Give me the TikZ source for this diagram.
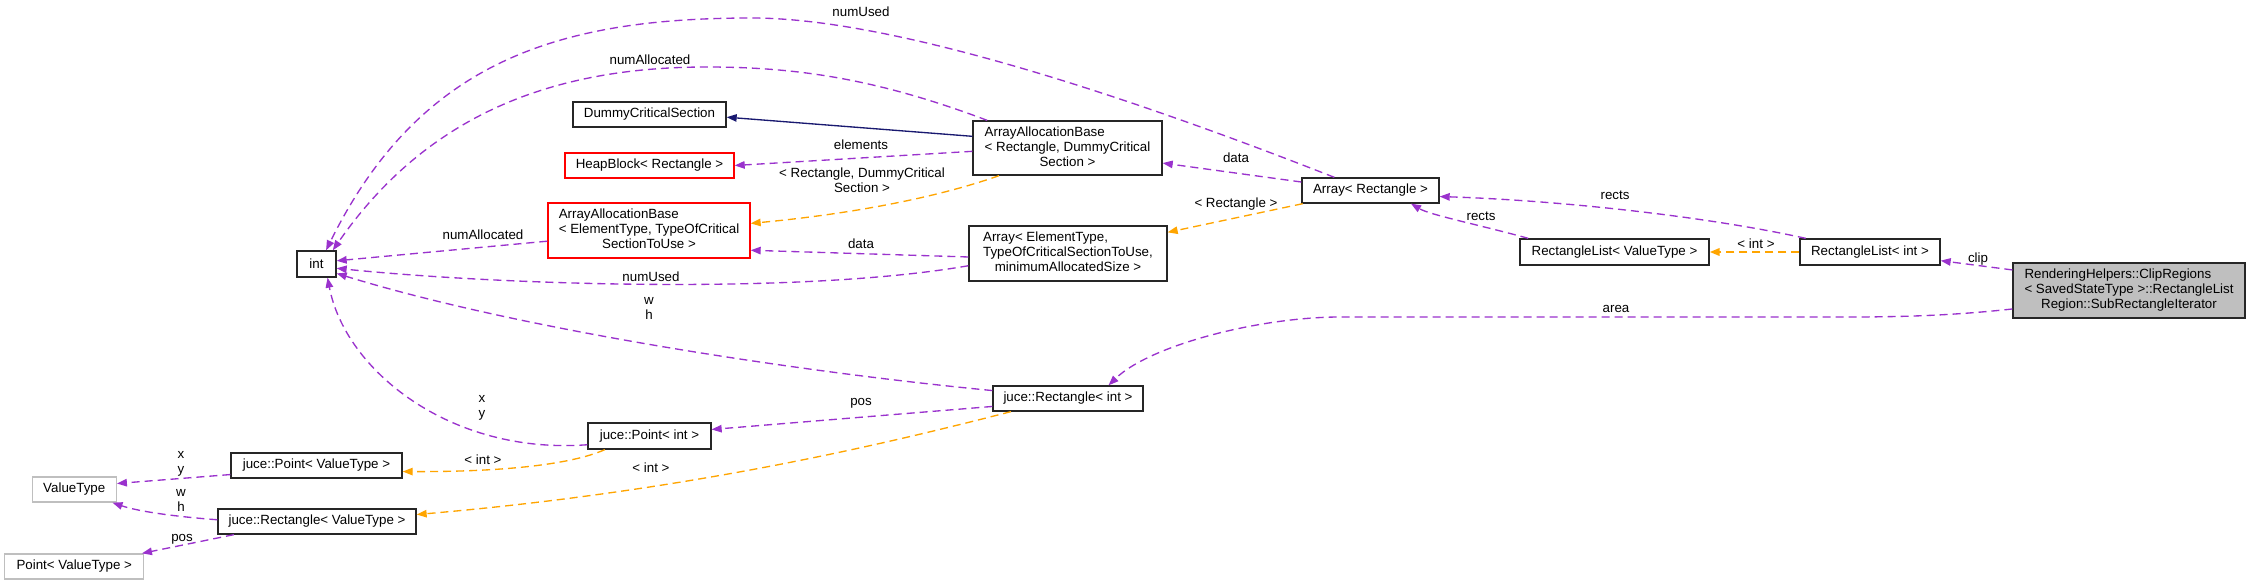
\documentclass[tikz,border=0pt]{standalone}
\usepackage{fontspec}
\setmainfont{Liberation Sans}
\usetikzlibrary{arrows.meta}
\definecolor{dxpurple}{HTML}{9A32CD}
\definecolor{dxorange}{HTML}{FFA500}
\definecolor{dxnavy}{HTML}{191970}
\definecolor{dxgray}{HTML}{BFBFBF}
\newcommand{\dxleft}[1]{\multicolumn{1}{@{}l@{}}{#1}}
\begin{document}
\begin{tikzpicture}[x=0.75pt,y=-0.75pt,
  every node/.style={font=\fontsize{10}{11.25}\selectfont},
  cls/.style={draw=black!85, line width=1pt, fill=white, inner sep=0pt, align=center},
  inc/.style={cls, draw=red},
  ext/.style={cls, draw=dxgray},
  cur/.style={cls, fill=dxgray},
  tip/.style={-{Triangle[length=7.5pt,width=5.6pt]}},
  use/.style={tip, draw=dxpurple, line width=1pt, dash pattern=on 6pt off 3.75pt},
  tmpl/.style={tip, draw=dxorange, line width=1pt, dash pattern=on 6pt off 3.75pt},
  inh/.style={tip, draw=dxnavy, line width=1pt},
  lbl/.style={inner sep=0pt, align=center}
]
\useasboundingbox (0,0) rectangle (2248,585);
\fill[white] (0,0) rectangle (2248,585);

% class nodes
\node[cls, minimum width=29.25pt, minimum height=19.5pt] (int) at (316.5,264) {int};
\node[cls, minimum width=114.75pt, minimum height=18.75pt] (dcs) at (649.5,114.5) {DummyCriticalSection};
\node[inc, minimum width=126.75pt, minimum height=18.75pt] (heap) at (649.5,165.5) {HeapBlock< Rectangle >};
\node[inc, minimum width=151.5pt, minimum height=41.25pt] (aabe) at (649,230.5)
  {\begin{tabular}{@{}c@{}}\dxleft{ArrayAllocationBase}\\< ElementType, TypeOfCritical\\SectionToUse >\end{tabular}};
\node[cls, minimum width=141.75pt, minimum height=40.5pt] (aabr) at (1067.5,148)
  {\begin{tabular}{@{}c@{}}\dxleft{ArrayAllocationBase}\\< Rectangle, DummyCritical\\Section >\end{tabular}};
\node[cls, minimum width=148.5pt, minimum height=41.25pt] (arre) at (1068,253.5)
  {\begin{tabular}{@{}c@{}}\dxleft{Array< ElementType,}\\TypeOfCriticalSectionToUse,\\minimumAllocatedSize >\end{tabular}};
\node[cls, minimum width=102.75pt, minimum height=18.75pt] (arrr) at (1370.5,190.5) {Array< Rectangle >};
\node[cls, minimum width=141.75pt, minimum height=19.5pt] (rlv) at (1614.5,252) {RectangleList< ValueType >};
\node[cls, minimum width=105pt, minimum height=19.5pt] (rli) at (1870,252) {RectangleList< int >};
\node[cur, minimum width=174pt, minimum height=41.25pt] (rend) at (2129,290.5)
  {\begin{tabular}{@{}c@{}}\dxleft{RenderingHelpers::ClipRegions}\\< SavedStateType >::RectangleList\\Region::SubRectangleIterator\end{tabular}};
\node[cls, minimum width=112.5pt, minimum height=18.75pt] (rint) at (1068,398.5) {juce::Rectangle< int >};
\node[cls, minimum width=92.25pt, minimum height=19.5pt] (pint) at (649.5,436) {juce::Point< int >};
\node[cls, minimum width=128.25pt, minimum height=18.75pt] (pvt) at (316.5,465.5) {juce::Point< ValueType >};
\node[cls, minimum width=148.5pt, minimum height=18.75pt] (rvt) at (317,521.5) {juce::Rectangle< ValueType >};
\node[ext, minimum width=63pt, minimum height=18.75pt] (vt) at (74.25,489.5) {ValueType};
\node[ext, minimum width=104.25pt, minimum height=18.75pt] (ptvt) at (74.25,566.5) {Point< ValueType >};

% connectors
\draw[inh] (aabr.173) -- (dcs.-2);
\draw[use] (aabr.182) -- (heap.east);
\draw[use] (aabr.161) .. controls (880,80) and (800,67) .. (707,67) .. controls (560,67) and (430,110) .. (int.40);
\draw[use] (arrr.160) .. controls (1150,105) and (900,18) .. (752,18) .. controls (560,18) and (420,60) .. (int.55);
\draw[use] (aabe.186) -- (int.9);
\draw[use] (arre.187) .. controls (800,295) and (500,285) .. (int.-12);
\draw[use] (rint.174) .. controls (800,372) and (520,330) .. (int.-25);
\draw[use] (pint.188) .. controls (450,455) and (345,370) .. (int.-51);
\draw[use] (arre.182) -- (aabe.-11);
\draw[use] (arrr.173) -- (aabr.-9);
\draw[tmpl] (arrr.191) -- (arre.12);
\draw[tmpl] (aabr.202) .. controls (930,200) and (840,215) .. (aabe.4);
\draw[use] (rlv.171) .. controls (1480,225) and (1430,215) .. (arrr.-18);
\draw[use] (rli.168) .. controls (1700,215) and (1550,200) .. (arrr.-5);
\draw[tmpl, line width=1.6pt] (rli.west) -- (rlv.east);
\draw[use] (rend.170) -- (rli.-7);
\draw[use] (rend.189) .. controls (1930,318) and (1870,317) .. (1800,317) -- (1340,317) .. controls (1260,317) and (1150,345) .. (rint.18);
\draw[use] (rint.186) -- (pint.6);
\draw[tmpl] (pint.197) .. controls (570,465) and (500,472) .. (pvt.-4);
\draw[tmpl] (rint.193) .. controls (900,440) and (700,490) .. (rvt.4);
\draw[use] (pvt.186) -- (vt.8);
\draw[use] (rvt.179) .. controls (180,517) and (140,512) .. (vt.-19);
\draw[use] (rvt.189) -- (ptvt.11);

% labels
\node[lbl] (l1) at (861,12) {numUsed};
\node[lbl] (l2) at (650,60) {numAllocated};
\node[lbl] (l3) at (861,145) {elements};
\node[lbl] (l4) at (862,180) {< Rectangle, DummyCritical\\Section >};
\node[lbl] (l5) at (1236,158) {data};
\node[lbl] (l6) at (1236,204) {< Rectangle >};
\node[lbl] (l7) at (861,244) {data};
\node[lbl] (l8) at (651,277) {numUsed};
\node[lbl] (l9) at (483,235) {numAllocated};
\node[lbl] (l10) at (649,308) {w\\h};
\node[lbl] (l11) at (482,408) {x\\y};
\node[lbl] (l12) at (483,460) {< int >};
\node[lbl] (l13) at (651,468) {< int >};
\node[lbl] (l14) at (181,464) {x\\y};
\node[lbl] (l15) at (181,500) {w\\h};
\node[lbl] (l16) at (182,539) {pos};
\node[lbl] (l17) at (861,403) {pos};
\node[lbl] (l18) at (1615,195) {rects};
\node[lbl] (l19) at (1481,216) {rects};
\node[lbl] (l20) at (1756,244) {< int >};
\node[lbl] (l21) at (1978,259) {clip};
\node[lbl] (l22) at (1616,309) {area};
\end{tikzpicture}
\end{document}
